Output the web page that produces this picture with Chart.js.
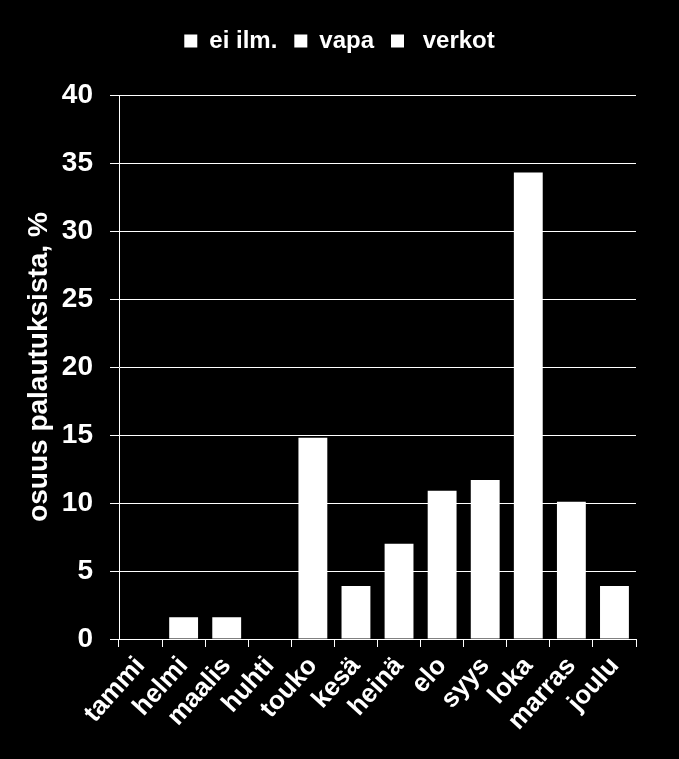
<!DOCTYPE html>
<html>
<head>
<meta charset="utf-8">
<script src="https://cdn.jsdelivr.net/npm/chart.js@4/dist/chart.umd.min.js"></script>
<style>
  html, body { margin: 0; padding: 0; background: #000; }
  #wrap { width: 679px; height: 759px; }
</style>
</head>
<body>
<div id="wrap"><canvas id="c" width="679" height="759"></canvas></div>
<script>
const months = ['tammi','helmi','maalis','huhti','touko','kesä','heinä','elo','syys','loka','marras','joulu'];
const seriesNames = ['ei ilm.', 'vapa', ' verkot'];
const eiIlm  = [0, 0, 0, 0, 0, 0, 0, 0, 0, 0, 0, 0];
const vapa   = [0, 0, 0, 0, 0, 0, 0, 0, 0, 0, 0, 0];
const verkot = [0, 1.6, 1.6, 0, 14.8, 3.9, 7.0, 10.9, 11.7, 34.3, 10.1, 3.9];
const yTicks = [0, 5, 10, 15, 20, 25, 30, 35, 40];
const yTitle = 'osuus palautuksista, %';

const FONT = '"Liberation Sans", Arial, sans-serif';

const bgPlugin = {
  id: 'bg',
  beforeDraw(chart) {
    const ctx = chart.ctx;
    ctx.save();
    ctx.fillStyle = '#000';
    ctx.fillRect(0, 0, chart.width, chart.height);
    ctx.restore();
  }
};

function ds(label, data) {
  return {
    label, data,
    backgroundColor: '#ffffff',
    borderColor: '#ffffff',
    borderWidth: 0,
    barPercentage: 0.67,
    categoryPercentage: 1.0,
    stack: 's'
  };
}

new Chart(document.getElementById('c'), {
  type: 'bar',
  data: {
    labels: months,
    datasets: [ds(seriesNames[0], eiIlm), ds(seriesNames[1], vapa), ds(seriesNames[2], verkot)]
  },
  options: {
    responsive: false,
    animation: false,
    layout: { padding: { top: 12, left: 0, right: 0, bottom: 0 } },
    plugins: {
      tooltip: { enabled: false },
      legend: {
        display: true,
        position: 'top',
        labels: {
          color: '#ffffff',
          boxWidth: 13,
          boxHeight: 13,
          padding: 17,
          font: { family: FONT, size: 24, weight: 'bold' }
        }
      },
      subtitle: {
        display: true, text: '', position: 'top', weight: 500,
        padding: { top: 31, bottom: 0 }, font: { size: 1, lineHeight: 1 }
      },
      title: {
        display: true, text: '', position: 'right', fullSize: false,
        padding: 0, font: { size: 43, lineHeight: 1 }
      }
    },
    scales: {
      x: {
        stacked: true,
        grid: { display: true, drawOnChartArea: false, drawTicks: true, tickLength: 8, color: '#ffffff', lineWidth: 1, offset: true },
        border: { display: true, color: '#ffffff', width: 1 },
        ticks: {
          color: '#ffffff', minRotation: 48, maxRotation: 48, autoSkip: false, padding: 4,
          font: { family: FONT, size: 26, weight: 'bold' }
        },
        afterFit(scale) { scale.height = 120; }
      },
      y: {
        stacked: true,
        min: 0, max: 40,
        afterBuildTicks(scale) { scale.ticks = yTicks.map(v => ({ value: v })); },
        grid: { display: true, drawOnChartArea: true, drawTicks: true, tickLength: 9, color: '#ffffff', lineWidth: 1 },
        border: { display: true, color: '#ffffff', width: 1 },
        ticks: {
          color: '#ffffff', padding: 17,
          font: { family: FONT, size: 28, weight: 'bold' }
        },
        title: {
          display: true, text: yTitle, color: '#ffffff',
          padding: { top: 22, bottom: 0 },
          font: { family: FONT, size: 28, weight: 'bold' }
        },
        afterFit(scale) { scale.width = 119; }
      }
    }
  },
  plugins: [bgPlugin]
});
</script>
</body>
</html>
